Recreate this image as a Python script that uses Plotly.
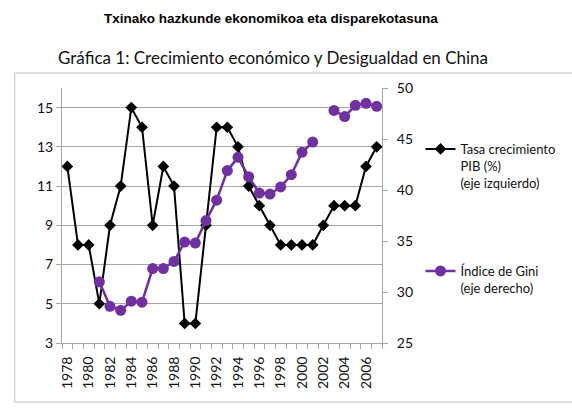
import plotly.graph_objects as go

years = list(range(1978, 2008))
pib = [12, 8, 8, 5, 9, 11, 15, 14, 9, 12, 11, 4, 4, 9, 14, 14, 13, 11, 10, 9,
       8, 8, 8, 8, 9, 10, 10, 10, 12, 13]
gini = [None, None, None, 31.0, 28.6, 28.2, 29.1, 29.0, 32.3, 32.3, 33.0, 34.9,
        34.8, 37.0, 39.0, 41.9, 43.2, 41.3, 39.7, 39.6, 40.3, 41.5, 43.7, 44.7,
        None, 47.8, 47.2, 48.3, 48.5, 48.2]
year_labels = [y for y in years if y % 2 == 0]

purple = "#7030A0"
grey = "#a6a6a6"
txt = "#111111"
chart_font = "Lato"

# plot area in pixels
L, R, T, B = 62, 186, 88, 65
W, H = 572, 408
pw, ph = W - L - R, H - T - B


def px_x(p):
    return (p - L) / pw


def px_y(p):
    return (H - B - p) / ph


fig = go.Figure()

fig.add_trace(go.Scatter(
    x=years, y=pib, name="Tasa crecimiento<br>PIB (%)<br>(eje izquierdo)",
    mode="lines+markers", line=dict(color="black", width=2),
    marker=dict(symbol="diamond", size=9, color="black"),
    legend="legend"))

fig.add_trace(go.Scatter(
    x=years, y=gini, name="Índice de Gini<br>(eje derecho)", yaxis="y2",
    mode="lines+markers", connectgaps=False,
    line=dict(color=purple, width=2.5),
    marker=dict(symbol="circle", size=11, color=purple),
    legend="legend2"))

fig.update_layout(
    width=W, height=H,
    margin=dict(l=L, r=R, t=T, b=B),
    paper_bgcolor="white", plot_bgcolor="white",
    font=dict(family=chart_font, color=txt, size=14),
    xaxis=dict(range=[1977.5, 2007.5], tickvals=year_labels, tickangle=-90,
               ticks="", showgrid=False, zeroline=False, ticklabelstandoff=7,
               showline=True, linecolor=grey, linewidth=1,
               tickfont=dict(size=14, color=txt),
               minor=dict(ticks="outside", tick0=1977.5, dtick=1, ticklen=5,
                          tickcolor=grey, showgrid=False)),
    yaxis=dict(range=[3, 16], tick0=3, dtick=2, showgrid=True, gridcolor=grey,
               gridwidth=1, zeroline=False, showline=True, linecolor=grey,
               ticks="outside", ticklen=5, tickcolor=grey,
               tickfont=dict(size=14, color=txt)),
    yaxis2=dict(range=[25, 50], dtick=5, overlaying="y", side="right",
                showgrid=False, zeroline=False, showline=True, linecolor=grey,
                ticks="outside", ticklen=5, tickcolor=grey, ticklabelstandoff=6,
                tickfont=dict(size=14, color=txt)),
    legend=dict(x=px_x(425), y=px_y(134), xanchor="left", yanchor="top",
                valign="top", bgcolor="rgba(0,0,0,0)",
                font=dict(family=chart_font, size=13, color=txt)),
    legend2=dict(x=px_x(425), y=px_y(256), xanchor="left", yanchor="top",
                 valign="top", bgcolor="rgba(0,0,0,0)",
                 font=dict(family=chart_font, size=13, color=txt)),
    showlegend=True,
)

# chart frame
fig.add_shape(type="rect", xref="paper", yref="paper",
              x0=px_x(14), x1=px_x(580), y0=px_y(402), y1=px_y(73),
              line=dict(color="#d4d4d4", width=1.5), layer="below")

fig.add_annotation(text="<b>Txinako hazkunde ekonomikoa eta disparekotasuna</b>",
                   xref="paper", yref="paper", x=px_x(274), y=px_y(18),
                   xanchor="center", yanchor="middle", showarrow=False,
                   font=dict(family="Liberation Sans", size=13.5, color="black"))
fig.add_annotation(text="Gráfica 1: Crecimiento económico y Desigualdad en China",
                   xref="paper", yref="paper", x=px_x(276), y=px_y(58),
                   xanchor="center", yanchor="middle", showarrow=False,
                   font=dict(family=chart_font, size=17, color="#111111"))

fig.write_html("out.html", config={"displayModeBar": False},
               post_script="document.body.style.margin='0';")
